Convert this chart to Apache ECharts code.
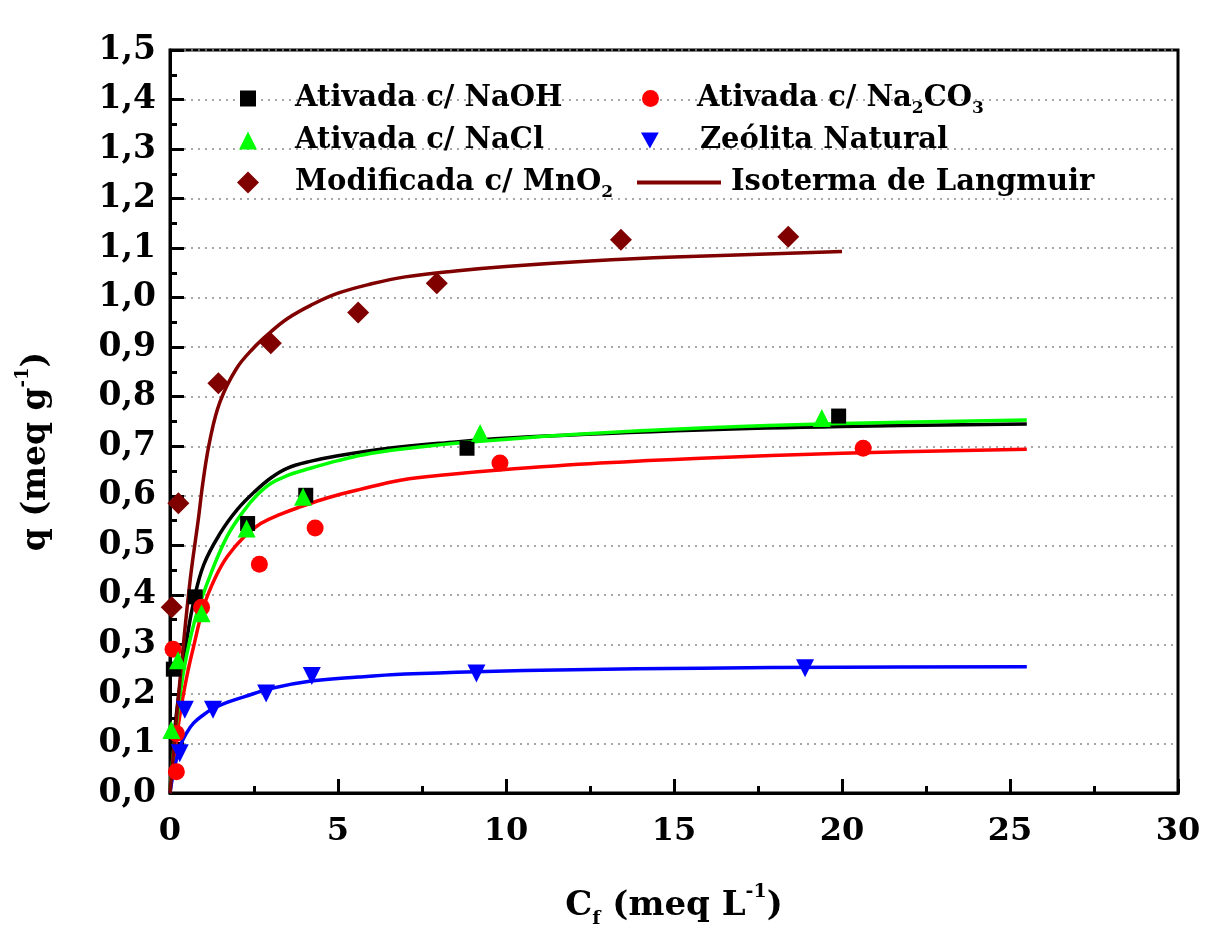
<!DOCTYPE html>
<html>
<head>
<meta charset="utf-8">
<title>Isotermas de adsorção</title>
<script src="https://cdn.jsdelivr.net/npm/echarts@6/dist/echarts.min.js"></script>
<style>
  html, body { margin: 0; padding: 0; background: #fff; }
  #chart { width: 1205px; height: 927px; }
</style>
</head>
<body>
<div id="chart"></div>
<script>
const naohX = [0.1, 0.75, 2.31, 4.04, 8.84, 19.9];
const naohY = [0.25, 0.396, 0.544, 0.601, 0.696, 0.761];

const na2co3X = [0.09, 0.19, 0.19, 0.94, 2.66, 4.32, 9.82, 20.63];
const na2co3Y = [0.29, 0.12, 0.043, 0.375, 0.462, 0.535, 0.666, 0.696];

const naclX = [0.04, 0.24, 0.94, 2.28, 3.96, 9.23, 19.4];
const naclY = [0.127, 0.268, 0.363, 0.534, 0.598, 0.727, 0.757];

const naturalX = [0.29, 0.44, 1.28, 2.86, 4.22, 9.12, 18.9];
const naturalY = [0.08, 0.168, 0.168, 0.201, 0.236, 0.241, 0.252];

const mno2X = [0.05, 0.25, 1.44, 3.0, 5.6, 7.94, 13.42, 18.4];
const mno2Y = [0.375, 0.585, 0.827, 0.908, 0.970, 1.029, 1.117, 1.123];

// ── Langmuir curves ──
const fitNaohX = [0, 0.1, 0.3, 0.5, 0.7, 1.0, 1.5, 2.0, 2.5, 3.0, 3.5, 4.2, 5, 6.5, 8, 10.7, 15.8, 20, 25.5];
const fitNaohY = [0, 0.1, 0.22, 0.31, 0.385, 0.46, 0.525, 0.572, 0.607, 0.636, 0.656, 0.670, 0.681, 0.696, 0.706, 0.719, 0.733, 0.740, 0.745];

const fitNa2co3X = [0, 0.1, 0.3, 0.5, 0.7, 1.0, 1.35, 1.7, 2.2, 2.7, 3.3, 3.9, 4.7, 5.6, 6.9, 8.3, 9.8, 12.8, 15.8, 20, 25.5];
const fitNa2co3Y = [0, 0.06, 0.16, 0.235, 0.295, 0.376, 0.435, 0.477, 0.517, 0.544, 0.563, 0.578, 0.596, 0.612, 0.632, 0.643, 0.652, 0.666, 0.676, 0.686, 0.694];

const fitNaclX = [0, 0.1, 0.3, 0.5, 0.8, 1.2, 1.7, 2.2, 2.6, 3, 3.5, 4, 5, 6, 7.5, 9, 12, 15.8, 20, 25.5];
const fitNaclY = [0, 0.08, 0.2, 0.28, 0.363, 0.44, 0.518, 0.57, 0.602, 0.625, 0.641, 0.652, 0.671, 0.686, 0.699, 0.709, 0.724, 0.737, 0.746, 0.753];

const fitNaturalX = [0, 0.1, 0.3, 0.5, 0.7, 1.0, 1.3, 1.7, 2.2, 3, 4.2, 5.6, 7, 9.1, 12, 15.8, 20, 25.5];
const fitNaturalY = [0, 0.04, 0.094, 0.122, 0.141, 0.158, 0.171, 0.183, 0.194, 0.211, 0.226, 0.234, 0.240, 0.245, 0.249, 0.252, 0.254, 0.255];

const fitMno2X = [0, 0.05, 0.3, 0.6, 0.84, 0.99, 1.19, 1.49, 1.98, 2.48, 3.0, 3.5, 4.2, 5, 6, 7, 8.5, 10, 12.5, 15, 20];
const fitMno2Y = [0, 0.04, 0.23, 0.43, 0.551, 0.632, 0.713, 0.790, 0.857, 0.898, 0.931, 0.958, 0.985, 1.009, 1.028, 1.042, 1.054, 1.063, 1.074, 1.082, 1.093];

const FONT = 'DejaVu Serif';
const BLACK = '#000000';
const RED = '#ff0000';
const GREEN = '#00ff00';
const BLUE = '#0000ff';
const MAROON = '#800000';

const zip = (xs, ys) => xs.map((x, i) => [x, ys[i]]);
const comma = (v, d) => v.toFixed(d).replace('.', ',');

// legend text with sub / superscripts
const LEGEND_TEXT = {
  'Ativada c/ NaOH':      '{t|Ativada c/ NaOH}',
  'Ativada c/ Na2CO3':    '{t|Ativada c/ Na}{s|2}{t|CO}{s|3}',
  'Ativada c/ NaCl':      '{t|Ativada c/ NaCl}',
  'Zeólita Natural':      '{t|Zeólita Natural}',
  'Modificada c/ MnO2':   '{t|Modificada c/ MnO}{s|2}',
  'Isoterma de Langmuir': '{t|Isoterma de Langmuir}',
};

const legendRich = {
  t: { fontFamily: FONT, fontWeight: 'bold', fontSize: 29, color: BLACK, lineHeight: 38 },
  s: { fontFamily: FONT, fontWeight: 'bold', fontSize: 17, color: BLACK, lineHeight: 17, verticalAlign: 'bottom' },
};

function legendItem(name, left, top, w, h, padLeft, extra) {
  return Object.assign({
    data: [name],
    left, top,
    itemWidth: w,
    itemHeight: h,
    selectedMode: false,
    formatter: (n) => LEGEND_TEXT[n],
    textStyle: { padding: [0, 0, 0, padLeft], rich: legendRich },
  }, extra || {});
}

function scatter(name, xs, ys, symbol, size, color, extra) {
  return Object.assign({
    name, type: 'scatter', symbol, symbolSize: size,
    itemStyle: { color, opacity: 1 },
    data: zip(xs, ys), z: 5,
  }, extra || {});
}

function curve(name, xs, ys, color) {
  return {
    name, type: 'line', showSymbol: false, symbol: 'none',
    smooth: 0.4,
    lineStyle: { color, width: 3.5 },
    itemStyle: { color },
    data: zip(xs, ys), z: 3,
  };
}

const chart = echarts.init(document.getElementById('chart'));

chart.setOption({
  backgroundColor: '#ffffff',
  animation: false,
  grid: {
    left: 170, right: 27, top: 50, bottom: 134,
    outerBoundsMode: 'none',
    show: true, borderColor: BLACK, borderWidth: 3,
  },
  legend: [
    legendItem('Ativada c/ NaOH',      235, 79,  16, 16, 34),
    legendItem('Ativada c/ NaCl',      234, 121, 18, 18, 33),
    legendItem('Modificada c/ MnO2',   232, 163, 22, 22, 31),
    legendItem('Ativada c/ Na2CO3',    637, 79,  17, 17, 33),
    legendItem('Zeólita Natural',      636, 121, 18, 16, 36, { icon: 'path://M0,0 L20,0 L10,18 Z' }),
    legendItem('Isoterma de Langmuir', 632, 163, 84, 4, 5, { icon: 'rect' }),
  ],
  xAxis: {
    type: 'value', min: 0, max: 30, interval: 5,
    name: '{t|C}{s|f}{t| (meq L}{p|-1}{t|)}',
    nameLocation: 'middle', nameGap: 90,
    nameTextStyle: {
      rich: {
        t: { fontFamily: FONT, fontWeight: 'bold', fontSize: 34, color: BLACK, lineHeight: 46 },
        s: { fontFamily: FONT, fontWeight: 'bold', fontSize: 19, color: BLACK, lineHeight: 19, verticalAlign: 'bottom' },
        p: { fontFamily: FONT, fontWeight: 'bold', fontSize: 19, color: BLACK, lineHeight: 19, verticalAlign: 'top' },
      },
    },
    axisLine: { lineStyle: { color: BLACK, width: 3 } },
    axisTick: { inside: true, length: 14, lineStyle: { color: BLACK, width: 3 } },
    minorTick: { show: true, splitNumber: 2, length: 7, lineStyle: { color: BLACK, width: 3 } },
    axisLabel: { fontFamily: FONT, fontWeight: 'bold', fontSize: 32, color: BLACK, margin: 23 },
    splitLine: { show: false },
  },
  yAxis: {
    type: 'value', min: 0, max: 1.5, interval: 0.1,
    name: '{t|q (meq g}{p|-1}{t|)}',
    nameLocation: 'middle', nameGap: 112,
    nameTextStyle: {
      padding: [0, 60, 0, 0],
      rich: {
        t: { fontFamily: FONT, fontWeight: 'bold', fontSize: 33, color: BLACK, lineHeight: 44 },
        p: { fontFamily: FONT, fontWeight: 'bold', fontSize: 18, color: BLACK, lineHeight: 18, verticalAlign: 'top' },
      },
    },
    axisLine: { lineStyle: { color: BLACK, width: 3 } },
    axisTick: { inside: true, length: 14, lineStyle: { color: BLACK, width: 3 } },
    minorTick: { show: true, splitNumber: 2, length: 7, lineStyle: { color: BLACK, width: 3 } },
    axisLabel: {
      fontFamily: FONT, fontWeight: 'bold', fontSize: 33, color: BLACK, margin: 14,
      formatter: (v) => comma(v, 1),
    },
    splitLine: { show: true, lineStyle: { color: '#8a8a8a', width: 1.5, type: [2, 5] } },
  },
  series: [
    curve('fit NaOH',   fitNaohX,    fitNaohY,    BLACK),
    curve('fit Na2CO3', fitNa2co3X,  fitNa2co3Y,  RED),
    curve('fit NaCl',   fitNaclX,    fitNaclY,    GREEN),
    curve('fit Natural', fitNaturalX, fitNaturalY, BLUE),
    curve('Isoterma de Langmuir', fitMno2X, fitMno2Y, MAROON),
    scatter('Ativada c/ NaOH',    naohX,    naohY,    'rect',     15, BLACK),
    scatter('Ativada c/ Na2CO3',  na2co3X,  na2co3Y,  'circle',   17, RED),
    scatter('Ativada c/ NaCl',    naclX,    naclY,    'triangle', 18, GREEN),
    scatter('Zeólita Natural',    naturalX, naturalY, 'triangle', 18, BLUE, { symbolRotate: 180 }),
    scatter('Modificada c/ MnO2', mno2X,    mno2Y,    'diamond',  22, MAROON),
  ],
});

window.addEventListener('resize', () => chart.resize());
</script>
</body>
</html>
